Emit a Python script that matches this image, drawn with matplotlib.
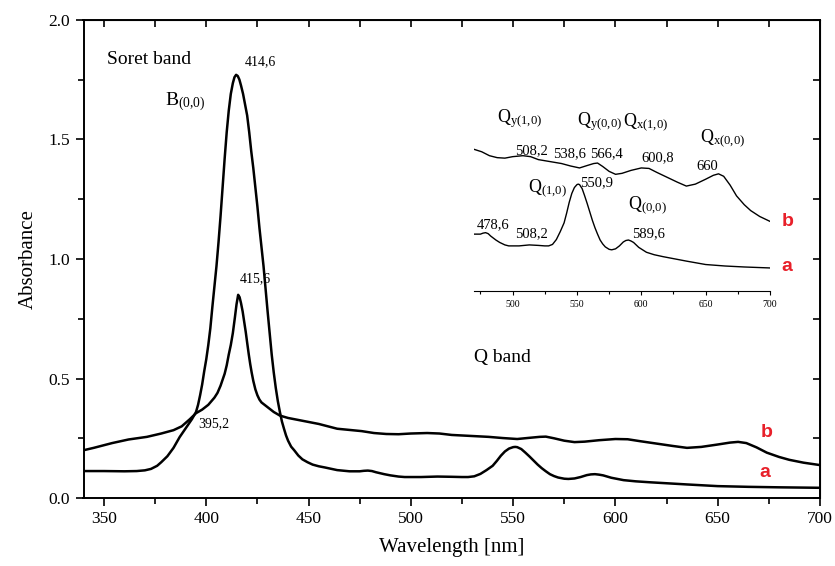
import matplotlib
matplotlib.use("Agg")
import matplotlib.pyplot as plt
from matplotlib.ticker import MultipleLocator

plt.rcParams['font.family'] = ['Liberation Serif', 'DejaVu Serif']
plt.rcParams['mathtext.default'] = 'regular'

# spectrum a (lower tail, Soret 414,6)
wl_a = [340, 350, 360, 366, 370, 373, 376, 378, 381, 384, 387, 389, 391, 393, 395, 396,
        397, 398, 399, 400, 401, 402, 403, 404, 405, 406, 407, 408, 409, 410, 411, 412,
        413, 413.8, 414.6, 415.4, 416.2, 417, 418, 419, 420, 421, 422, 423, 424, 425,
        426, 427, 428, 429, 430, 431, 432, 433, 434, 435, 436, 437, 438, 439, 440, 441.5,
        443, 445, 447, 449.5, 452, 455, 458, 464, 470, 475, 477, 479, 481, 483, 487, 490,
        494, 497, 505, 513, 520, 525, 528, 531, 534, 537, 540, 542, 544, 546, 548, 550,
        551, 552, 554, 556, 558, 560, 562, 564, 566, 568, 570, 572, 575, 577, 580, 583,
        586, 588, 590, 592, 594, 596, 598, 601, 604, 610, 617, 625, 635, 650, 665, 680,
        700]
abs_a = [0.113, 0.113, 0.112, 0.113, 0.116, 0.122, 0.135, 0.15, 0.175, 0.21, 0.255, 0.28,
         0.305, 0.33, 0.36, 0.39, 0.43, 0.475, 0.53, 0.58, 0.64, 0.71, 0.80, 0.885, 0.97,
         1.07, 1.18, 1.30, 1.42, 1.53, 1.62, 1.69, 1.735, 1.76, 1.77, 1.765, 1.75, 1.725,
         1.69, 1.645, 1.60, 1.53, 1.45, 1.38, 1.30, 1.22, 1.13, 1.05, 0.97, 0.875, 0.78,
         0.69, 0.60, 0.525, 0.46, 0.405, 0.36, 0.32, 0.29, 0.262, 0.24, 0.215, 0.20,
         0.178, 0.162, 0.15, 0.14, 0.133, 0.128, 0.117, 0.112, 0.112, 0.114, 0.115,
         0.113, 0.108, 0.10, 0.095, 0.09, 0.088, 0.088, 0.090, 0.089, 0.088, 0.088,
         0.091, 0.101, 0.117, 0.135, 0.155, 0.177, 0.195, 0.207, 0.213, 0.214, 0.213,
         0.205, 0.19, 0.174, 0.157, 0.14, 0.125, 0.112, 0.10, 0.092, 0.086, 0.081,
         0.080, 0.082, 0.088, 0.096, 0.099, 0.100, 0.098, 0.095, 0.09, 0.085, 0.08,
         0.075, 0.070, 0.066, 0.062, 0.057, 0.050, 0.047, 0.045, 0.043]

# spectrum b (upper tail, Soret 415,6)
wl_b = [340, 345, 354, 362, 371, 378, 384, 388, 392, 395, 398, 401, 404, 405.5, 407, 408,
        409, 410, 411, 412, 413, 414, 414.8, 415.6, 416.3, 417, 417.8, 418.5, 419.3, 420,
        420.8, 421.5, 422.2, 423, 424, 425, 426, 427, 428.5, 430, 433, 436, 440, 446, 455,
        464, 470, 476, 482, 488, 494, 500, 508, 514, 520, 529, 538, 545, 552, 558, 563,
        566, 570, 575, 580, 585, 592, 600, 606, 612, 620, 628, 635, 642, 650, 656, 660,
        664, 669, 674, 680, 685, 692, 700]
abs_b = [0.20, 0.21, 0.23, 0.245, 0.256, 0.27, 0.284, 0.30, 0.33, 0.355, 0.37, 0.39,
         0.42, 0.44, 0.47, 0.495, 0.52, 0.555, 0.60, 0.64, 0.69, 0.755, 0.81, 0.85,
         0.84, 0.815, 0.78, 0.74, 0.695, 0.65, 0.60, 0.56, 0.525, 0.49, 0.455, 0.43,
         0.412, 0.40, 0.39, 0.38, 0.36, 0.345, 0.335, 0.325, 0.31, 0.29, 0.285, 0.28,
         0.272, 0.268, 0.267, 0.270, 0.272, 0.270, 0.264, 0.26, 0.256, 0.251, 0.247,
         0.252, 0.256, 0.257, 0.25, 0.24, 0.234, 0.236, 0.242, 0.247, 0.246, 0.238,
         0.228, 0.218, 0.21, 0.214, 0.224, 0.232, 0.235, 0.23, 0.212, 0.19, 0.172, 0.16,
         0.148, 0.138]

red = '#e8202a'

fig = plt.figure(figsize=(8.35, 5.66), dpi=100)
ax = fig.add_axes([0.1, 0.12, 0.882, 0.845])
ax.plot(wl_a, abs_a, color='black', lw=1.8)
ax.plot(wl_b, abs_b, color='black', lw=1.8)
ax.set_xlim(340, 700)
ax.set_ylim(0, 2.0)
ax.xaxis.set_major_locator(MultipleLocator(50))
ax.xaxis.set_minor_locator(MultipleLocator(25))
ax.yaxis.set_major_locator(MultipleLocator(0.5))
ax.yaxis.set_minor_locator(MultipleLocator(0.25))
ax.yaxis.set_major_formatter(lambda v, p: f"{v:.1f}")
ax.tick_params(which='major', direction='out', length=6, width=1.2, labelsize=12.5)
ax.tick_params(which='minor', direction='out', length=4, width=1.2)
for s in ax.spines.values():
    s.set_linewidth(1.4)

top = ax.secondary_xaxis('top')
top.xaxis.set_major_locator(MultipleLocator(50))
top.xaxis.set_minor_locator(MultipleLocator(25))
top.tick_params(which='both', direction='in', labeltop=False, length=5, width=1.2)
right = ax.secondary_yaxis('right')
right.yaxis.set_major_locator(MultipleLocator(0.5))
right.yaxis.set_minor_locator(MultipleLocator(0.25))
right.tick_params(which='both', direction='in', labelright=False, length=5, width=1.2)

ax.set_xlabel('Wavelength [nm]', fontsize=15, labelpad=8)
ax.set_ylabel('Absorbance', fontsize=15, labelpad=8)

ax.text(351.5, 1.833, 'Soret band', fontsize=14, va='center')
ax.text(418.8, 1.824, '414,6', fontsize=10, va='center')
ax.text(379.8, 1.657, 'B$_{(0{,}0)}$', fontsize=14, va='center')
ax.text(416.3, 0.916, '415,6', fontsize=10, va='center')
ax.text(395.9, 0.31, '395,2', fontsize=10, va='center')
ax.text(531, 0.586, 'Q band', fontsize=14, va='center')
ax.text(671, 0.276, 'b', fontsize=14, color=red, fontweight='bold',
        family='Liberation Sans', va='center')
ax.text(670.5, 0.105, 'a', fontsize=14, color=red, fontweight='bold',
        family='Liberation Sans', va='center')

# inset with Q bands
ins = fig.add_axes([474 / 835, 1 - 291 / 566, 296 / 835, 151 / 566])
ins.patch.set_alpha(0)
ins.plot(wl_a, abs_a, color='black', lw=1.0)
ins.plot(wl_b, abs_b, color='black', lw=1.0)
ins.set_xlim(470, 700)
ins.set_ylim(-0.004, 0.304)
for k in ['top', 'left', 'right']:
    ins.spines[k].set_visible(False)
ins.spines['bottom'].set_linewidth(0.8)
ins.set_yticks([])
ins.xaxis.set_major_locator(MultipleLocator(50))
ins.xaxis.set_minor_locator(MultipleLocator(25))
ins.tick_params(which='major', length=3, width=0.8, labelsize=7)
ins.tick_params(which='minor', length=2, width=0.8)

ins.text(487.9, 0.348, 'Q$_{y(1{,}0)}$', fontsize=13, va='center')
ins.text(501.8, 0.283, '508,2', fontsize=10.5, va='center')
ins.text(531.3, 0.277, '538,6', fontsize=10.5, va='center')
ins.text(560.1, 0.277, '566,4', fontsize=10.5, va='center')
ins.text(550.0, 0.340, 'Q$_{y(0{,}0)}$', fontsize=13, va='center')
ins.text(585.7, 0.340, 'Q$_{x(1{,}0)}$', fontsize=13, va='center')
ins.text(600.4, 0.267, '600,8', fontsize=10.5, va='center')
ins.text(645.5, 0.308, 'Q$_{x(0{,}0)}$', fontsize=13, va='center')
ins.text(643.1, 0.249, '660', fontsize=10.5, va='center')
ins.text(511.9, 0.206, 'Q$_{(1{,}0)}$', fontsize=13, va='center')
ins.text(552.3, 0.216, '550,9', fontsize=10.5, va='center')
ins.text(589.6, 0.171, 'Q$_{(0{,}0)}$', fontsize=13, va='center')
ins.text(472.3, 0.131, '478,6', fontsize=10.5, va='center')
ins.text(501.8, 0.112, '508,2', fontsize=10.5, va='center')
ins.text(592.7, 0.112, '589,6', fontsize=10.5, va='center')
ins.text(709.1, 0.137, 'b', fontsize=14, color=red, fontweight='bold',
         family='Liberation Sans', va='center')
ins.text(709.1, 0.045, 'a', fontsize=14, color=red, fontweight='bold',
         family='Liberation Sans', va='center')

fig.savefig('out.png', dpi=100)
